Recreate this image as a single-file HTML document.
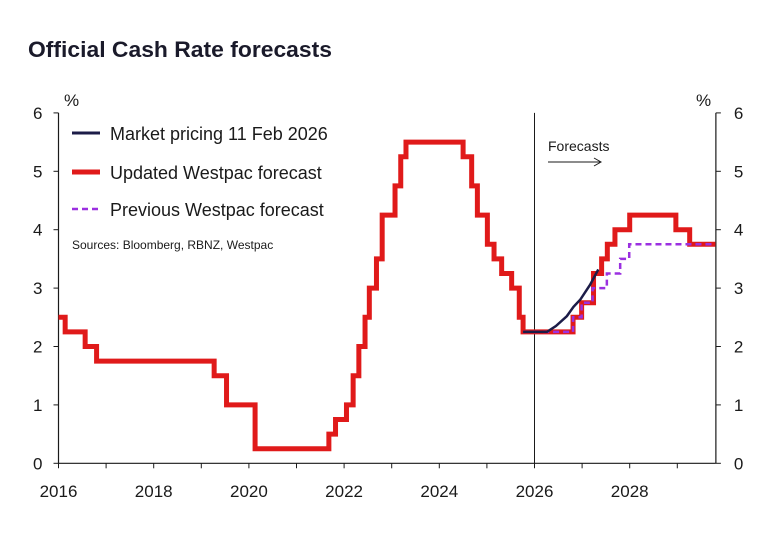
<!DOCTYPE html>
<html><head><meta charset="utf-8"><style>
body{margin:0;background:#fff;}
svg{display:block;font-family:"Liberation Sans",Arial,sans-serif;}
</style></head><body>
<svg id="chart" width="781" height="535" viewBox="0 0 781 535">
<text x="28" y="57" font-size="22" font-weight="bold" textLength="304" lengthAdjust="spacingAndGlyphs" fill="#1a1a2a">Official Cash Rate forecasts</text>
<g id="axes"></g>
<g id="series"></g>
<g>
<line x1="72" y1="133" x2="100" y2="133" stroke="#1c1c48" stroke-width="3"/>
<text x="110" y="140" font-size="18" fill="#1a1a1a">Market pricing 11 Feb 2026</text>
<line x1="72" y1="172" x2="100" y2="172" stroke="#e01a1a" stroke-width="5"/>
<text x="110" y="179" font-size="18" fill="#1a1a1a">Updated Westpac forecast</text>
<line x1="72" y1="209" x2="100" y2="209" stroke="#9b30e0" stroke-width="2.5" stroke-dasharray="6,4"/>
<text x="110" y="216" font-size="18" fill="#1a1a1a">Previous Westpac forecast</text>
<text x="72" y="249" font-size="12" fill="#1a1a1a">Sources: Bloomberg, RBNZ, Westpac</text>
</g>
<text x="548" y="151" font-size="14" fill="#1a1a1a">Forecasts</text>
<g>
<line x1="548" y1="162" x2="600" y2="162" stroke="#1a1a1a" stroke-width="1"/>
<polyline points="594,158 601,162 594,166" fill="none" stroke="#1a1a1a" stroke-width="1"/>
</g>
</svg>
<script>
const yTicks=[0,1,2,3,4,5,6];
const xTickYears=[2016,2017,2018,2019,2020,2021,2022,2023,2024,2025,2026,2027,2028,2029];
const xLabelYears=[2016,2018,2020,2022,2024,2026,2028];
// step series: [year of change, new level]
const updYears=[2015.9,2016.14,2016.56,2016.80,2019.27,2019.53,2020.13,2021.68,2021.82,2022.05,2022.19,2022.31,2022.44,2022.53,2022.68,2022.80,2023.07,2023.19,2023.30,2024.50,2024.68,2024.80,2025.01,2025.15,2025.31,2025.52,2025.68,2025.76,2026.81,2026.99,2027.24,2027.41,2027.53,2027.69,2028.0,2028.97,2029.26];
const updVals=[2.5,2.25,2.0,1.75,1.5,1.0,0.25,0.5,0.75,1.0,1.5,2.0,2.5,3.0,3.5,4.25,4.75,5.25,5.5,5.25,4.75,4.25,3.75,3.5,3.25,3.0,2.5,2.25,2.5,2.75,3.25,3.5,3.75,4.0,4.25,4.0,3.75];
const prevYears=[2025.76,2026.81,2026.99,2027.22,2027.52,2027.80,2027.99];
const prevVals=[2.25,2.5,2.75,3.0,3.25,3.5,3.75];
const mktYears=[2025.76,2026.26,2026.45,2026.68,2026.82,2026.96,2027.17,2027.34];
const mktVals=[2.25,2.25,2.35,2.52,2.68,2.8,3.06,3.32];
const endYear=2029.8;

const X0=58.5,PX=47.6,Y0=463.3,PY=58.4;
const xs=y=>X0+(y-2016)*PX;
const ys=v=>Y0-v*PY;
const NS="http://www.w3.org/2000/svg";
const axes=document.getElementById('axes'),ser=document.getElementById('series');
function mk(tag,attrs,parent){const e=document.createElementNS(NS,tag);for(const k in attrs)e.setAttribute(k,attrs[k]);parent.appendChild(e);return e;}
const xl=xs(2016),xr=xs(endYear)+0.5;
let e;
e=mk('line',{x1:xl,y1:ys(0),x2:xr,y2:ys(0),stroke:'#1a1a1a','stroke-width':1.2},axes);


e=mk('line',{x1:xl,y1:ys(0),x2:xl,y2:ys(6),stroke:'#1a1a1a','stroke-width':1.2},axes);


e=mk('line',{x1:xr,y1:ys(0),x2:xr,y2:ys(6),stroke:'#1a1a1a','stroke-width':1.2},axes);


e=mk('line',{x1:xs(2026),y1:ys(0),x2:xs(2026),y2:ys(6),stroke:'#1a1a1a','stroke-width':1},axes);


yTicks.forEach(v=>{
  mk('line',{x1:xl-5,y1:ys(v),x2:xl,y2:ys(v),stroke:'#1a1a1a'},axes);
  mk('line',{x1:xr,y1:ys(v),x2:xr+5,y2:ys(v),stroke:'#1a1a1a'},axes);
  e=mk('text',{x:xl-16,y:ys(v)+6,'font-size':17,'text-anchor':'end',fill:'#1a1a1a'},axes);e.textContent=v;
  
  
  e=mk('text',{x:xr+18,y:ys(v)+6,'font-size':17,fill:'#1a1a1a'},axes);e.textContent=v;
  
  
});
e=mk('text',{x:64,y:106,'font-size':17,fill:'#1a1a1a'},axes);e.textContent='%';


e=mk('text',{x:696,y:106,'font-size':17,fill:'#1a1a1a'},axes);e.textContent='%';


xTickYears.forEach(y=>mk('line',{x1:xs(y),y1:ys(0),x2:xs(y),y2:ys(0)+5,stroke:'#1a1a1a'},axes));
xLabelYears.forEach(y=>{
  e=mk('text',{x:xs(y),y:497,'font-size':17,'text-anchor':'middle',fill:'#1a1a1a'},axes);e.textContent=y;
  
  
});
function stepPts(yrs,vals){
  let p=[];const s=Math.max(yrs[0],2016);
  p.push([xs(s),ys(vals[0])]);
  for(let i=1;i<yrs.length;i++){p.push([xs(yrs[i]),ys(vals[i-1])]);p.push([xs(yrs[i]),ys(vals[i])]);}
  p.push([xs(endYear),ys(vals[vals.length-1])]);
  return p.map(q=>q.join(',')).join(' ');
}
e=mk('polyline',{points:stepPts(updYears,updVals),fill:'none',stroke:'#e01a1a','stroke-width':5,'stroke-linejoin':'miter'},ser);


e=mk('polyline',{points:stepPts(prevYears,prevVals),fill:'none',stroke:'#9b30e0','stroke-width':2.5,'stroke-dasharray':'6,4'},ser);


e=mk('polyline',{points:mktYears.map((y,i)=>xs(y)+','+ys(mktVals[i])).join(' '),fill:'none',stroke:'#1c1c48','stroke-width':2.5},ser);


</script>
</body></html>
